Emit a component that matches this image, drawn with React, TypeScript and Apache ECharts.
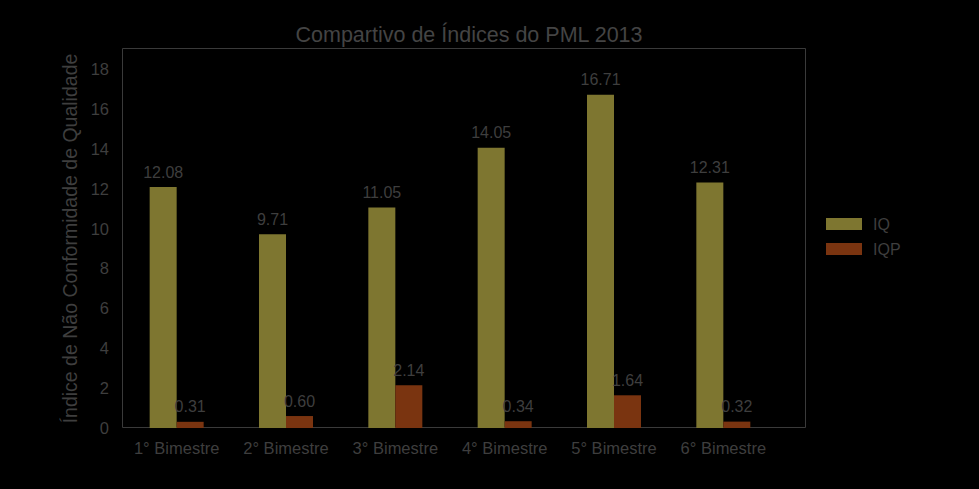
import React, { useEffect, useRef } from "react";
import * as echarts from "echarts";

const categories = ["1° Bimestre", "2° Bimestre", "3° Bimestre", "4° Bimestre", "5° Bimestre", "6° Bimestre"];
const iqValues = [12.08, 9.71, 11.05, 14.05, 16.71, 12.31];
const iqpValues = [0.31, 0.6, 2.14, 0.34, 1.64, 0.32];
const seriesNames = ["IQ", "IQP"];

export default function App() {
  const ref = useRef<HTMLDivElement>(null);
  useEffect(() => {
    const chart = echarts.init(ref.current!, null, { renderer: "svg" });
    const textColor = "#3e3e3e";
    const frameColor = "#3a3a3a";
    const font = "Liberation Sans, Arial, sans-serif";
    const labelCfg = {
      show: true,
      position: "top",
      distance: 7,
      color: textColor,
      fontSize: 16,
      fontFamily: font,
      formatter: (p: any) => p.value.toFixed(2),
    };
    chart.setOption({
      animation: false,
      backgroundColor: "#000000",
      title: {
        text: "Compartivo de Índices do PML 2013",
        left: 464,
        textAlign: "center",
        top: 19,
        textStyle: { color: "#444444", fontSize: 21.5, fontWeight: "normal", fontFamily: font },
      },
      legend: {
        orient: "vertical",
        left: 821,
        top: 211,
        itemWidth: 36,
        itemHeight: 12,
        itemGap: 9,
        icon: "rect",
        textStyle: { color: textColor, fontSize: 16, fontFamily: font, padding: [0, 0, 0, 6] },
        data: seriesNames,
      },
      graphic: [
        {
          type: "rect",
          shape: { x: 122.5, y: 48.5, width: 683, height: 379 },
          style: { fill: "none", stroke: frameColor, lineWidth: 1 },
          silent: true,
        },
      ],
      grid: { left: 122, top: 49, right: 201, bottom: 61 },
      xAxis: {
        type: "category",
        data: categories,
        axisLine: { show: false },
        axisTick: { show: false },
        axisLabel: { color: textColor, fontSize: 16.5, fontFamily: font, margin: 11, interval: 0 },
      },
      yAxis: {
        type: "value",
        min: 0,
        max: 19,
        interval: 2,
        name: "Índice de Não Conformidade de Qualidade",
        nameLocation: "middle",
        nameGap: 42,
        nameTextStyle: { color: textColor, fontSize: 19.5, fontFamily: font },
        splitLine: { show: false },
        axisLine: { show: false },
        axisTick: { show: false },
        axisLabel: { color: textColor, fontSize: 16.5, fontFamily: font, showMaxLabel: false, margin: 13 },
      },
      series: [
        {
          name: seriesNames[0],
          type: "bar",
          data: iqValues,
          barWidth: 27,
          barGap: "0%",
          itemStyle: { color: "#7e7630" },
          label: labelCfg,
        },
        {
          name: seriesNames[1],
          type: "bar",
          data: iqpValues,
          barWidth: 27,
          barGap: "0%",
          itemStyle: { color: "#7a3410" },
          label: labelCfg,
        },
      ],
    });
    return () => chart.dispose();
  }, []);
  return <div ref={ref} style={{ width: 979, height: 489, position: "absolute", left: 0, top: 0 }} />;
}
